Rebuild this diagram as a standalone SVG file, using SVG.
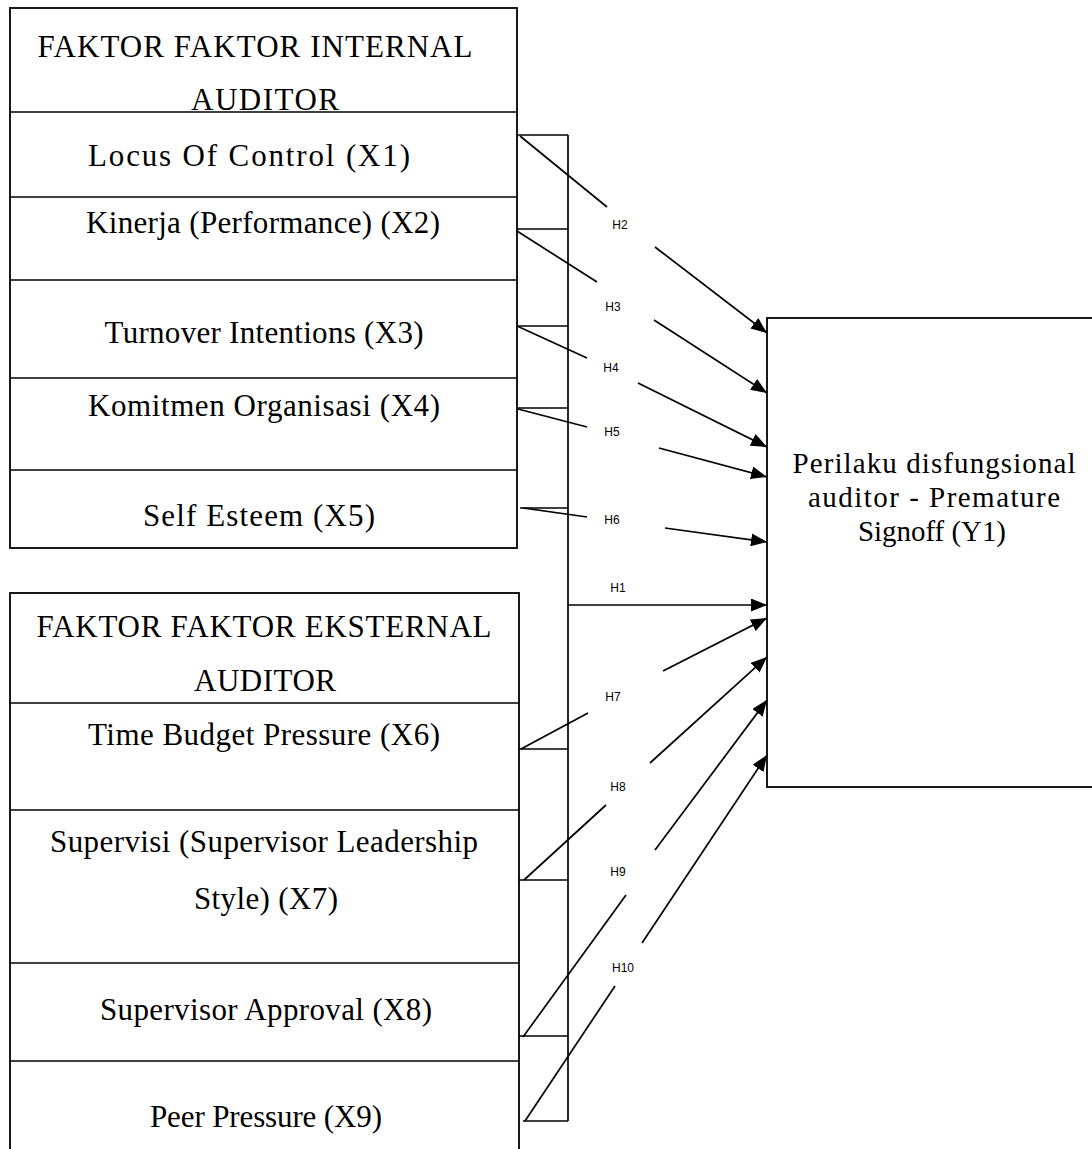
<svg xmlns="http://www.w3.org/2000/svg" width="1092" height="1149" viewBox="0 0 1092 1149">
<style>
.box{fill:none;stroke:#000;stroke-width:1.8}
.ln{stroke:#000;stroke-width:1.7;fill:none}
.t{font-family:"Liberation Serif","Times New Roman",serif;font-size:31px;fill:#000;text-anchor:middle}
.ty{font-size:29px}
.h{font-family:"Liberation Sans",Arial,sans-serif;font-size:12px;fill:#000;text-anchor:middle}
.arr{stroke:#000;stroke-width:1.7;fill:none;marker-end:url(#ah)}
</style>
<defs>
<marker id="ah" markerUnits="userSpaceOnUse" markerWidth="17" markerHeight="13" refX="16" refY="6.5" orient="auto">
<path d="M0,0 L16,6.5 L0,13 z" fill="#000"/>
</marker>
</defs>
<rect width="1092" height="1149" fill="#fff"/>

<g id="internal">
<rect class="box" x="10" y="8" width="507" height="540"/>
<text class="t" x="255" y="57" textLength="435" lengthAdjust="spacing">FAKTOR FAKTOR INTERNAL</text>
<text class="t" x="265" y="110" textLength="148" lengthAdjust="spacing">AUDITOR</text>
<line class="ln" x1="10" y1="112" x2="517" y2="112"/>
<g id="x1"><text class="t" x="249" y="166" textLength="322" lengthAdjust="spacing">Locus Of Control (X1)</text></g>
<line class="ln" x1="10" y1="197" x2="517" y2="197"/>
<g id="x2"><text class="t" x="263" y="233" textLength="354" lengthAdjust="spacing">Kinerja (Performance) (X2)</text></g>
<line class="ln" x1="10" y1="280" x2="517" y2="280"/>
<g id="x3"><text class="t" x="264" y="343" textLength="319" lengthAdjust="spacing">Turnover Intentions (X3)</text></g>
<line class="ln" x1="10" y1="378" x2="517" y2="378"/>
<g id="x4"><text class="t" x="264" y="416" textLength="352" lengthAdjust="spacing">Komitmen Organisasi (X4)</text></g>
<line class="ln" x1="10" y1="470" x2="517" y2="470"/>
<g id="x5"><text class="t" x="259" y="526" textLength="232" lengthAdjust="spacing">Self Esteem (X5)</text></g>
</g>

<g id="external">
<rect class="box" x="10" y="593" width="509" height="570"/>
<text class="t" x="264" y="637" textLength="455" lengthAdjust="spacing">FAKTOR FAKTOR EKSTERNAL</text>
<text class="t" x="265" y="691" textLength="142" lengthAdjust="spacing">AUDITOR</text>
<line class="ln" x1="10" y1="703" x2="519" y2="703"/>
<g id="x6"><text class="t" x="264" y="745" textLength="352" lengthAdjust="spacing">Time Budget Pressure (X6)</text></g>
<line class="ln" x1="10" y1="810" x2="519" y2="810"/>
<g id="x7"><text class="t" x="264" y="852" textLength="428" lengthAdjust="spacing">Supervisi (Supervisor Leadership</text>
<text class="t" x="266" y="909" textLength="144" lengthAdjust="spacing">Style) (X7)</text></g>
<line class="ln" x1="10" y1="963" x2="519" y2="963"/>
<g id="x8"><text class="t" x="266" y="1020" textLength="332" lengthAdjust="spacing">Supervisor Approval (X8)</text></g>
<line class="ln" x1="10" y1="1061" x2="519" y2="1061"/>
<g id="x9"><text class="t" x="266" y="1127" textLength="232" lengthAdjust="spacing">Peer Pressure (X9)</text></g>
</g>

<g id="y1">
<rect class="box" x="767" y="318" width="340" height="469"/>
<text class="t ty" x="934" y="473" textLength="283" lengthAdjust="spacing">Perilaku disfungsional</text>
<text class="t ty" x="934" y="507" textLength="252" lengthAdjust="spacing">auditor  - Premature</text>
<text class="t ty" x="932" y="541" textLength="148" lengthAdjust="spacingAndGlyphs">Signoff (Y1)</text>
</g>

<g id="connectors">
<line class="ln" x1="568" y1="135" x2="568" y2="1121"/>
<line class="ln" x1="517" y1="135" x2="568" y2="135"/>
<line class="ln" x1="517" y1="229" x2="568" y2="229"/>
<line class="ln" x1="517" y1="326" x2="568" y2="326"/>
<line class="ln" x1="517" y1="408" x2="568" y2="408"/>
<line class="ln" x1="520" y1="508" x2="568" y2="508"/>
<line class="ln" x1="519" y1="749" x2="568" y2="749"/>
<line class="ln" x1="519" y1="880" x2="568" y2="880"/>
<line class="ln" x1="519" y1="1036" x2="568" y2="1036"/>
<line class="ln" x1="523" y1="1121" x2="568" y2="1121"/>

<line class="ln" x1="520" y1="136" x2="607" y2="207"/>
<line class="arr" x1="655" y1="247" x2="767" y2="333"/>
<line class="ln" x1="517" y1="231" x2="597" y2="282"/>
<line class="arr" x1="654" y1="320" x2="767" y2="393"/>
<line class="ln" x1="517" y1="326" x2="587" y2="358"/>
<line class="arr" x1="638" y1="383" x2="767" y2="447"/>
<line class="ln" x1="518" y1="409" x2="587" y2="427"/>
<line class="arr" x1="659" y1="448" x2="767" y2="477"/>
<line class="ln" x1="523" y1="508" x2="587" y2="517"/>
<line class="arr" x1="665" y1="528" x2="767" y2="542"/>
<line class="arr" x1="568" y1="605" x2="767" y2="605"/>
<line class="ln" x1="521" y1="749" x2="588" y2="713"/>
<line class="arr" x1="663" y1="671" x2="767" y2="618"/>
<line class="ln" x1="524" y1="880" x2="606" y2="805"/>
<line class="arr" x1="650" y1="763" x2="767" y2="657"/>
<line class="ln" x1="523" y1="1037" x2="626" y2="895"/>
<line class="arr" x1="655" y1="850" x2="767" y2="700"/>
<line class="ln" x1="525" y1="1121" x2="615" y2="986"/>
<line class="arr" x1="642" y1="943" x2="767" y2="755"/>

<text class="h" x="620" y="229">H2</text>
<text class="h" x="613" y="311">H3</text>
<text class="h" x="611" y="372">H4</text>
<text class="h" x="612" y="436">H5</text>
<text class="h" x="612" y="524">H6</text>
<text class="h" x="618" y="592">H1</text>
<text class="h" x="613" y="701">H7</text>
<text class="h" x="618" y="791">H8</text>
<text class="h" x="618" y="876">H9</text>
<text class="h" x="623" y="972">H10</text>
</g>
</svg>
